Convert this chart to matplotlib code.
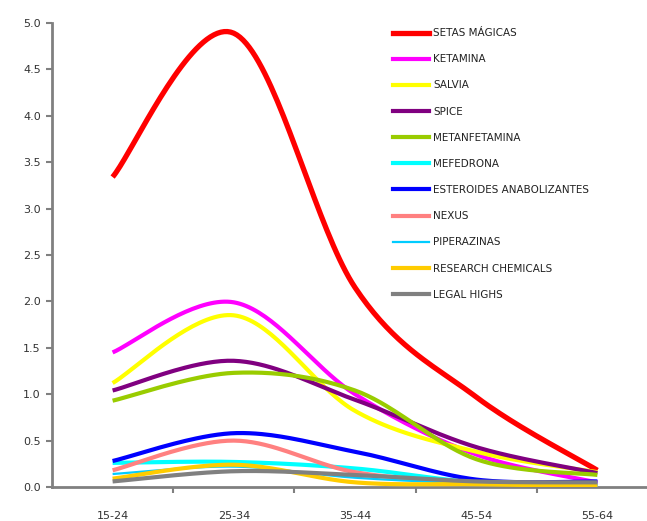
import numpy as np
import matplotlib
matplotlib.use("Agg")
import matplotlib.pyplot as plt
from matplotlib.lines import Line2D

################################################################################
# DATA
age_groups = ["15-24", "25-34", "35-44", "45-54", "55-64"]

setas_magicas = [3.34, 4.89, 2.15, 0.97, 0.18]
ketamina = [1.45, 1.99, 1.00, 0.35, 0.05]
salvia = [1.12, 1.85, 0.82, 0.38, 0.16]
spice = [1.04, 1.36, 0.94, 0.43, 0.15]
metanfetamina = [0.93, 1.23, 1.04, 0.30, 0.13]
mefedrona = [0.26, 0.27, 0.20, 0.05, 0.02]
esteroides = [0.28, 0.58, 0.38, 0.08, 0.06]
nexus = [0.18, 0.50, 0.16, 0.05, 0.02]
piperazinas = [0.14, 0.22, 0.10, 0.04, 0.02]
research_chemicals = [0.09, 0.24, 0.05, 0.03, 0.01]
legal_highs = [0.06, 0.17, 0.13, 0.06, 0.05]

labels = ["SETAS MÁGICAS", "KETAMINA", "SALVIA", "SPICE", "METANFETAMINA",
          "MEFEDRONA", "ESTEROIDES ANABOLIZANTES", "NEXUS", "PIPERAZINAS",
          "RESEARCH CHEMICALS", "LEGAL HIGHS"]
colors = ["#FF0000", "#FF00FF", "#FFFF00", "#800080", "#99CC00",
          "#00FFFF", "#0000FF", "#FF8080", "#00CCFF", "#FFCC00", "#808080"]
widths = [3.8, 3.0, 3.0, 3.0, 3.0, 3.0, 3.0, 3.0, 1.6, 3.0, 3.0]
series = [setas_magicas, ketamina, salvia, spice, metanfetamina, mefedrona,
          esteroides, nexus, piperazinas, research_chemicals, legal_highs]


# excel style smoothed line (bezier through every point)
def smooth(xs, ys, n=40):
    xs = np.asarray(xs, float)
    ys = np.asarray(ys, float)
    px = np.concatenate([[xs[0]], xs, [xs[-1]]])
    py = np.concatenate([[ys[0]], ys, [ys[-1]]])
    out_x, out_y = [], []
    t = np.linspace(0, 1, n)
    for i in range(1, len(xs)):
        x0, y0 = px[i], py[i]
        x3, y3 = px[i + 1], py[i + 1]
        x1 = x0 + (px[i + 1] - px[i - 1]) / 6.0
        y1 = y0 + (py[i + 1] - py[i - 1]) / 6.0
        x2 = x3 - (px[i + 2] - px[i]) / 6.0
        y2 = y3 - (py[i + 2] - py[i]) / 6.0
        bx = (1-t)**3*x0 + 3*(1-t)**2*t*x1 + 3*(1-t)*t**2*x2 + t**3*x3
        by = (1-t)**3*y0 + 3*(1-t)**2*t*y1 + 3*(1-t)*t**2*y2 + t**3*y3
        out_x.extend(bx)
        out_y.extend(by)
    return out_x, out_y


################################################################################
W, H = 647, 521
fig = plt.figure(figsize=(W / 100, H / 100), dpi=100)
ax = fig.add_axes([52 / W, 34 / H, 606 / W, 464 / H])

x = np.arange(len(age_groups))
for i, (vals, col, lw) in enumerate(zip(series, colors, widths)):
    sx, sy = smooth(x, vals)
    ax.plot(sx, sy, color=col, lw=lw, solid_capstyle="butt", zorder=2 + i)

ax.set_xlim(-0.5, len(age_groups) - 0.5)
ax.set_ylim(0, 5.0)
ax.set_yticks(np.arange(0, 5.01, 0.5))
ax.set_yticklabels(["%.1f" % v for v in np.arange(0, 5.01, 0.5)])
ax.set_xticks(x)
ax.set_xticklabels(age_groups)
ax.set_xticks(x[:-1] + 0.5, minor=True)

for s in ["top", "right"]:
    ax.spines[s].set_visible(False)
for s in ["left", "bottom"]:
    ax.spines[s].set_color("#808080")
    ax.spines[s].set_linewidth(2)

ax.tick_params(axis="y", which="major", direction="out", length=4, width=1.5,
               color="#808080", labelsize=8, labelcolor="#333333", pad=4)
ax.tick_params(axis="x", which="major", length=0, labelsize=8,
               labelcolor="#333333", pad=17)
ax.tick_params(axis="x", which="minor", direction="out", length=4, width=1.5,
               color="#808080")

handles = [Line2D([0], [0], color=c, lw=w) for c, w in zip(colors, widths)]
ax.legend(handles, labels, loc="upper left", bbox_to_anchor=(388 / W, 1 - 23 / H),
          bbox_transform=fig.transFigure, frameon=False, fontsize=7.5,
          handlelength=3.4, handletextpad=0.45, labelspacing=1.55,
          borderpad=0, labelcolor="#222222")

fig.savefig("out.png", dpi=100)
